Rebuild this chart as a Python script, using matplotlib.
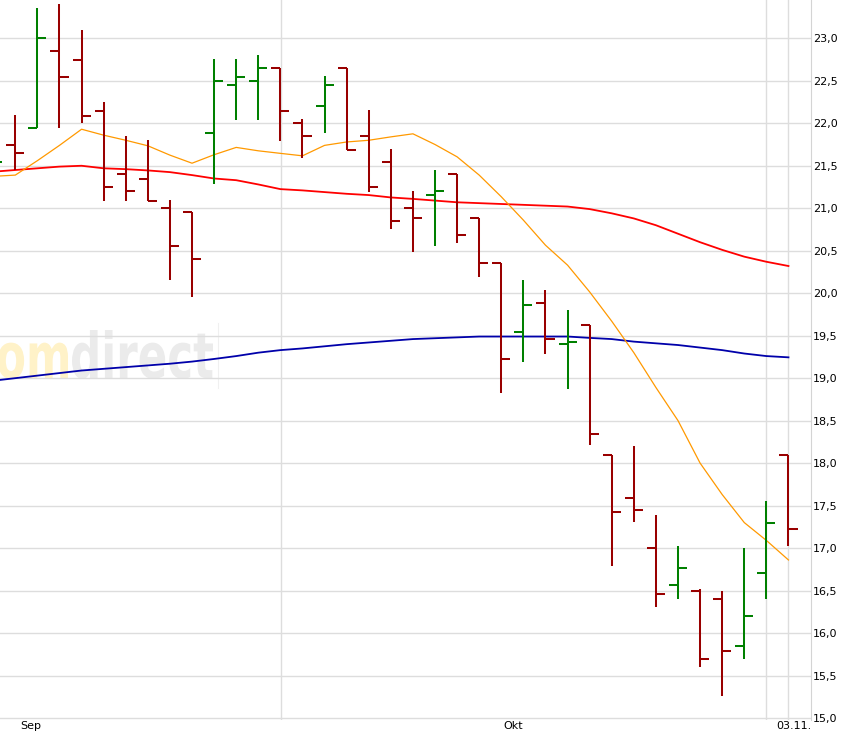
import numpy as np
import matplotlib
matplotlib.use('Agg')
import matplotlib.pyplot as plt
from matplotlib.textpath import TextPath
from matplotlib.patches import PathPatch
from matplotlib.font_manager import FontProperties
from matplotlib.transforms import Affine2D
from matplotlib.lines import Line2D

# daily bars, first one is only partly visible at the left edge
opens = [21.40, 21.75, 21.95, 22.85, 22.75, 22.15, 21.40, 21.35, 21.00, 20.95,
         21.89, 22.45, 22.50, 22.65, 22.00, 22.20, 22.65, 21.85, 21.55, 21.00,
         21.15, 21.40, 20.89, 20.35, 19.54, 19.89, 19.40, 19.63, 18.10, 17.59,
         17.00, 16.57, 16.49, 16.40, 15.85, 16.71, 18.10]
highs = [21.62, 22.10, 23.36, 23.40, 23.10, 22.25, 21.85, 21.80, 21.10, 20.95,
         22.76, 22.76, 22.80, 22.65, 22.05, 22.56, 22.65, 22.16, 21.70, 21.20,
         21.45, 21.40, 20.89, 20.35, 20.15, 20.04, 19.80, 19.63, 18.10, 18.20,
         17.39, 17.03, 16.52, 16.49, 17.00, 17.55, 18.10]
lows = [21.35, 21.45, 21.95, 21.95, 22.00, 21.09, 21.09, 21.09, 20.15, 19.95,
        21.29, 22.04, 22.04, 21.79, 21.59, 21.89, 21.69, 21.19, 20.75, 20.49,
        20.55, 20.59, 20.19, 18.83, 19.19, 19.28, 18.87, 18.21, 16.79, 17.31,
        16.31, 16.40, 15.60, 15.26, 15.69, 16.40, 17.02]
closes = [21.55, 21.65, 23.00, 22.55, 22.09, 21.25, 21.20, 21.09, 20.55, 20.40,
          22.50, 22.55, 22.65, 22.15, 21.85, 22.45, 21.69, 21.25, 20.85, 20.89,
          21.20, 20.69, 20.35, 19.23, 19.86, 19.46, 19.43, 18.34, 17.43, 17.45,
          16.46, 16.77, 15.69, 15.79, 16.20, 17.29, 17.23]

# moving averages
ma_short = [21.375, 21.39, 21.56, 21.74, 21.93, 21.86, 21.80, 21.735, 21.625, 21.53,
            21.63, 21.716, 21.676, 21.646, 21.617, 21.74, 21.78, 21.80, 21.84, 21.876,
            21.75, 21.605, 21.39, 21.135, 20.86, 20.565, 20.33, 20.015, 19.67, 19.30,
            18.89, 18.50, 18.00, 17.63, 17.30, 17.09, 16.86]
ma_mid = [21.43, 21.45, 21.47, 21.49, 21.50, 21.47, 21.46, 21.445, 21.425, 21.39,
          21.35, 21.33, 21.28, 21.225, 21.21, 21.19, 21.17, 21.155, 21.127, 21.11,
          21.09, 21.07, 21.06, 21.05, 21.04, 21.03, 21.02, 20.99, 20.94, 20.88,
          20.80, 20.70, 20.60, 20.51, 20.43, 20.37, 20.32]
ma_long = [18.97, 19.00, 19.03, 19.06, 19.09, 19.11, 19.13, 19.15, 19.17, 19.195,
           19.226, 19.26, 19.30, 19.33, 19.35, 19.375, 19.40, 19.42, 19.44, 19.46,
           19.47, 19.48, 19.49, 19.49, 19.49, 19.49, 19.49, 19.474, 19.46, 19.43,
           19.41, 19.39, 19.36, 19.33, 19.29, 19.26, 19.245]

month_labels = ['Sep', 'Okt', '03.11.']
month_pos = [0.71, 22.55, 35.25]
vgrid_pos = [12.03, 34, 35]
y_ticks = [15.0, 15.5, 16.0, 16.5, 17.0, 17.5, 18.0, 18.5, 19.0, 19.5,
           20.0, 20.5, 21.0, 21.5, 22.0, 22.5, 23.0]

x = np.arange(len(opens)) - 1
o = np.array(opens); c = np.array(closes)
cols = np.where(c >= o, '#008000', '#990000')

fig = plt.figure(figsize=(8.42, 7.32), dpi=100)
ax = fig.add_axes([0, 12/732, 811/842, 720/732])

# comdirect watermark, drawn in pixels
fp = FontProperties(family='DejaVu Sans', weight='bold')
tp_d = TextPath((0, 0), 'direct', size=1, prop=fp)
tp_c = TextPath((0, 0), 'com', size=1, prop=fp)
ed = tp_d.get_extents(); ec = tp_c.get_extents()
hd = TextPath((0, 0), 'd', size=1, prop=fp).get_extents().y1
sx = 141 / ed.width
sy = 48 / hd
base = 732 - 378
ax.add_patch(PathPatch(tp_d, transform=Affine2D().scale(sx, sy).translate(72 - ed.x0*sx, base),
                       fc='#ebebeb', ec='none', zorder=0.5))
ax.add_patch(PathPatch(tp_c, transform=Affine2D().scale(sx, sy).translate(68 - ec.x1*sx, base),
                       fc='#fff2c8', ec='none', zorder=0.5))
ax.add_line(Line2D([218, 218], [732-388, 732-323], color='#f0f0f0', lw=0.8,
                   transform=Affine2D(), zorder=0.5))

ax.plot(x, ma_long, color='#0000aa', lw=1.3, zorder=2)
ax.plot(x, ma_mid, color='#ff0000', lw=1.3, zorder=2)
ax.plot(x, ma_short, color='#ff9900', lw=0.9, zorder=2)

tw = 0.41
ax.vlines(x, lows, highs, colors=cols, lw=1.45, zorder=3)
ax.hlines(opens, x - tw, x, colors=cols, lw=1.45, zorder=3)
ax.hlines(closes, x, x + tw, colors=cols, lw=1.45, zorder=3)

ax.set_xlim(-0.693, 36.02)
ax.set_ylim(14.9765, 23.451)

ax.yaxis.tick_right()
ax.set_yticks(y_ticks)
ax.set_yticklabels([f'{v:.1f}'.replace('.', ',') for v in y_ticks])
ax.set_xticks(month_pos)
ax.set_xticklabels(month_labels)
ax.set_xticks(vgrid_pos, minor=True)
ax.tick_params(axis='y', length=0, pad=1.5, labelsize=8)
ax.tick_params(axis='x', which='both', length=0, pad=0.5, labelsize=8)
ax.grid(axis='y', color='#dddddd', lw=1)
ax.grid(axis='x', which='minor', color='#dddddd', lw=1)
ax.set_axisbelow(True)

for s in ['top', 'left', 'bottom']:
    ax.spines[s].set_visible(False)
ax.spines['right'].set_color('#d4d4d4')

fig.savefig('out.png', dpi=100)
